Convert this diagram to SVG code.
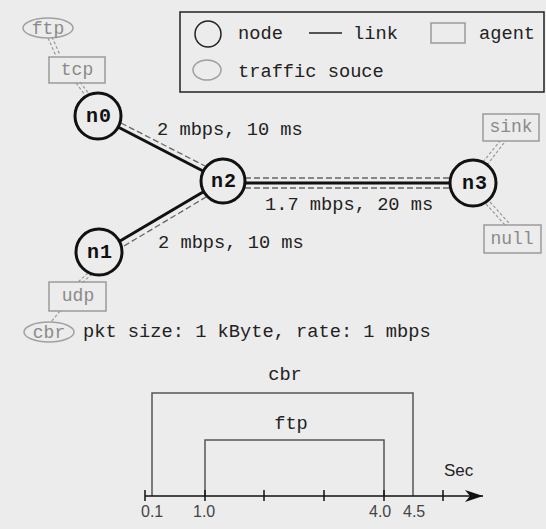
<svg xmlns="http://www.w3.org/2000/svg" width="546" height="529" viewBox="0 0 546 529">
  <style>
    .mono { font-family: "Liberation Mono", "Courier New", monospace; font-size: 18.7px; fill: #222; }
    .agent-t { font-family: "Liberation Mono", "Courier New", monospace; font-size: 18px; fill: #8a8a8a; text-anchor: middle; }
    .node-t { font-family: "Liberation Mono", "Courier New", monospace; font-size: 20px; font-weight: bold; fill: #111; text-anchor: middle; letter-spacing: 1px; }
    .node-c { fill: none; stroke: #111; stroke-width: 3; }
    .agent-b { fill: none; stroke: #9a9a9a; stroke-width: 1.5; }
    .src-e { fill: none; stroke: #a0a0a0; stroke-width: 1.5; }
    .link { stroke: #111; stroke-width: 3; }
    .queue { stroke: #666; stroke-width: 1.3; stroke-dasharray: 6 3; fill: none; }
    .attach { stroke: #999; stroke-width: 1.2; stroke-dasharray: 3 2; fill: none; }
    .sec { font-family: "Liberation Sans", Arial, sans-serif; font-size: 17px; fill: #222; }
    .tick-t { font-family: "Liberation Sans", Arial, sans-serif; font-size: 16px; fill: #444; }
  </style>
  <defs>
    <marker id="arrow" viewBox="0 0 18 12" refX="18" refY="6" markerWidth="18" markerHeight="12" markerUnits="userSpaceOnUse" orient="auto">
      <path d="M0,0 L18,6 L0,12 L5,6 Z" fill="#111"/>
    </marker>
  </defs>

  <rect width="546" height="529" fill="#ececec"/>

  <!-- legend -->
  <g id="legend">
    <rect x="180" y="12" width="364" height="80" fill="none" stroke="#222" stroke-width="1.5"/>
    <circle cx="208" cy="34" r="13" fill="none" stroke="#222" stroke-width="1.5"/>
    <text class="mono" x="238" y="39">node</text>
    <line x1="309" y1="33" x2="342" y2="33" stroke="#222" stroke-width="1.5"/>
    <text class="mono" x="353" y="39">link</text>
    <rect x="431" y="23" width="34" height="20" class="agent-b"/>
    <text class="mono" x="479" y="39">agent</text>
    <ellipse cx="207" cy="70" rx="14" ry="10" class="src-e"/>
    <text class="mono" x="238" y="77">traffic souce</text>
  </g>

  <!-- connectors: links with their queue traces, and agent attachments -->
  <g id="connectors">
    <line class="link" x1="118" y1="127" x2="203" y2="171"/>
    <line class="queue" x1="121" y1="123" x2="205" y2="166"/>
    <line class="link" x1="120" y1="241" x2="203" y2="192"/>
    <line class="queue" x1="124" y1="246" x2="206" y2="197"/>
    <line class="link" x1="245" y1="183" x2="450" y2="183"/>
    <line class="queue" x1="245" y1="178" x2="450" y2="178"/>
    <line class="queue" x1="245" y1="188" x2="450" y2="188"/>

    <line class="attach" x1="48" y1="38" x2="56" y2="56"/>
    <line class="attach" x1="52" y1="37" x2="60" y2="55"/>
    <line class="attach" x1="76" y1="83" x2="85" y2="95"/>
    <line class="attach" x1="80" y1="82" x2="89" y2="94"/>
    <line class="attach" x1="483" y1="162" x2="500" y2="141"/>
    <line class="attach" x1="487" y1="165" x2="504" y2="143"/>
    <line class="attach" x1="486" y1="204" x2="505" y2="225"/>
    <line class="attach" x1="490" y1="202" x2="509" y2="223"/>
    <line class="attach" x1="88" y1="273" x2="78" y2="282"/>
    <line class="attach" x1="92" y1="274" x2="82" y2="283"/>
    <line class="attach" x1="60" y1="311" x2="51" y2="322"/>
  </g>

  <!-- link labels -->
  <text class="mono" x="157" y="135">2 mbps, 10 ms</text>
  <text class="mono" x="265" y="210">1.7 mbps, 20 ms</text>
  <text class="mono" x="158" y="248">2 mbps, 10 ms</text>

  <!-- nodes -->
  <g id="n0">
    <circle class="node-c" cx="98" cy="116" r="23"/>
    <text class="node-t" x="99" y="122">n0</text>
  </g>
  <g id="n1">
    <circle class="node-c" cx="99" cy="252" r="23"/>
    <text class="node-t" x="100" y="258">n1</text>
  </g>
  <g id="n2">
    <circle class="node-c" cx="223" cy="181" r="22"/>
    <text class="node-t" x="224" y="187">n2</text>
  </g>
  <g id="n3">
    <circle class="node-c" cx="473" cy="183" r="23"/>
    <text class="node-t" x="475" y="189">n3</text>
  </g>

  <!-- agents and traffic sources -->
  <g id="ftp">
    <ellipse cx="48" cy="28" rx="25" ry="10" class="src-e"/>
    <text class="agent-t" x="48" y="34">ftp</text>
  </g>
  <g id="tcp">
    <rect x="49" y="57" width="56" height="26" class="agent-b"/>
    <text class="agent-t" x="77" y="75">tcp</text>
  </g>
  <g id="sink">
    <rect x="483" y="114" width="56" height="27" class="agent-b"/>
    <text class="agent-t" x="511" y="132">sink</text>
  </g>
  <g id="null">
    <rect x="484" y="225" width="57" height="28" class="agent-b"/>
    <text class="agent-t" x="512" y="244">null</text>
  </g>
  <g id="udp">
    <rect x="49" y="282" width="57" height="29" class="agent-b"/>
    <text class="agent-t" x="78" y="301">udp</text>
  </g>
  <g id="cbr">
    <ellipse cx="49" cy="332" rx="25" ry="10" class="src-e"/>
    <text class="agent-t" x="49" y="338">cbr</text>
  </g>
  <text class="mono" x="83" y="337">pkt size: 1 kByte, rate: 1 mbps</text>

  <!-- timeline -->
  <g id="timeline">
    <polyline points="152,496 152,393 413,393 413,496" fill="none" stroke="#555" stroke-width="1.5"/>
    <polyline points="205,496 205,440 384,440 384,496" fill="none" stroke="#555" stroke-width="1.5"/>
    <text class="mono" x="285" y="380" text-anchor="middle">cbr</text>
    <text class="mono" x="291" y="429" text-anchor="middle">ftp</text>
    <line x1="145" y1="496" x2="483" y2="496" stroke="#111" stroke-width="1.5" marker-end="url(#arrow)"/>
    <g stroke="#111" stroke-width="1.5">
      <line x1="145" y1="490" x2="145" y2="501"/>
      <line x1="205" y1="490" x2="205" y2="501"/>
      <line x1="264" y1="490" x2="264" y2="501"/>
      <line x1="324" y1="490" x2="324" y2="501"/>
      <line x1="384" y1="490" x2="384" y2="501"/>
      <line x1="443" y1="490" x2="443" y2="501"/>
    </g>
    <text class="sec" x="444" y="476">Sec</text>
    <text class="tick-t" x="141" y="517">0.1</text>
    <text class="tick-t" x="193" y="517">1.0</text>
    <text class="tick-t" x="369" y="517">4.0</text>
    <text class="tick-t" x="403" y="517">4.5</text>
  </g>
</svg>
